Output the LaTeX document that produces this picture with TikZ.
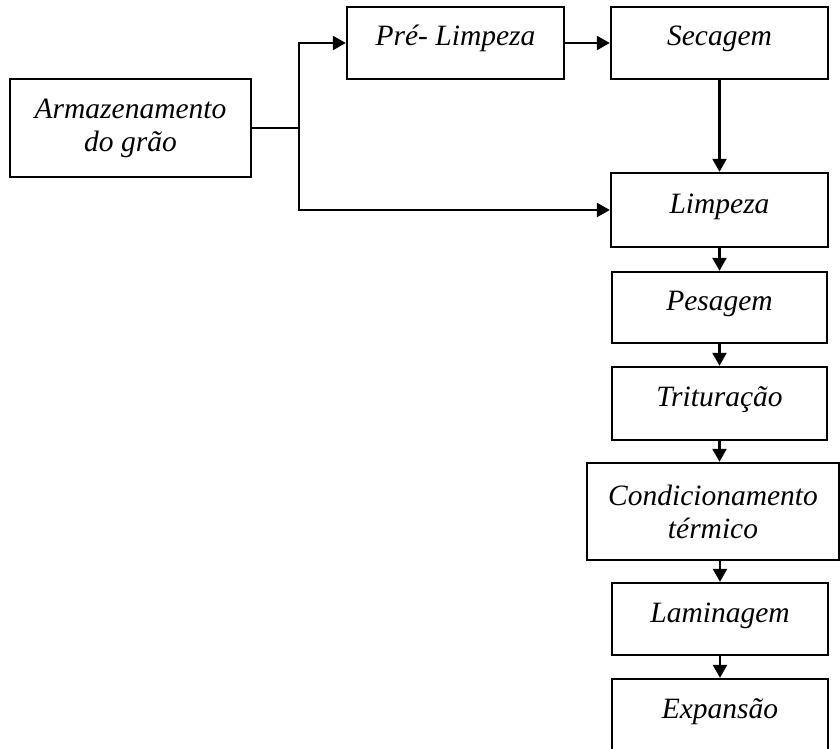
\documentclass[tikz,border=0pt]{standalone}
\usepackage{fontspec}
\setmainfont{Liberation Serif}
\usetikzlibrary{arrows.meta}
\begin{document}
\begin{tikzpicture}[x=0.5pt,y=-0.5pt,
 box/.style={draw,line width=1.2pt,align=center,inner sep=0pt,
  font=\itshape\fontsize{14.75}{16.5}\selectfont},
 onebox/.style={box,text height=10pt,text depth=7pt},
 flow/.style={line width=1.2pt,-{Triangle[length=6.5pt,width=7pt]}}]
 \useasboundingbox (0,0) rectangle (840,749);
 % left side
 \node[box,minimum width=120.5pt,minimum height=49pt] (store) at (130.5,128) {Armazenamento\\do grão};
 \node[onebox,minimum width=108.5pt,minimum height=36pt] (pre) at (455.5,43) {Pré- Limpeza};
 % main column
 \node[onebox,minimum width=108.5pt,minimum height=36pt] (dry) at (719.5,43) {Secagem};
 \node[onebox,minimum width=108.5pt,minimum height=37pt] (clean) at (719.5,210) {Limpeza};
 \node[onebox,minimum width=107.5pt,minimum height=35.5pt] (weigh) at (719.5,307.5) {Pesagem};
 \node[onebox,minimum width=107.5pt,minimum height=36.5pt] (grind) at (719.5,403.5) {Trituração};
 \node[box,minimum width=126pt,minimum height=48.5pt] (cond) at (713,511.5) {Condicionamento\\térmico};
 \node[onebox,minimum width=108pt,minimum height=36pt] (roll) at (720,619) {Laminagem};
 \node[onebox,minimum width=108pt,minimum height=36.5pt] (expand) at (720,715.5) {Expansão};
 % connectors
 \draw[line width=1.2pt] (store.east) -- ++(47,0) coordinate (split);
 \draw[flow] (split) |- (pre.west);
 \draw[flow] (split) |- (clean.west);
 \draw[flow] (pre) -- (dry);
 \draw[flow] (dry) -- (clean);
 \draw[flow] (clean) -- (weigh);
 \draw[flow] (weigh) -- (grind);
 \draw[flow] (grind) -- (grind |- cond.north);
 \draw[flow] (roll |- cond.south) -- (roll);
 \draw[flow] (roll) -- (expand);
\end{tikzpicture}
\end{document}
